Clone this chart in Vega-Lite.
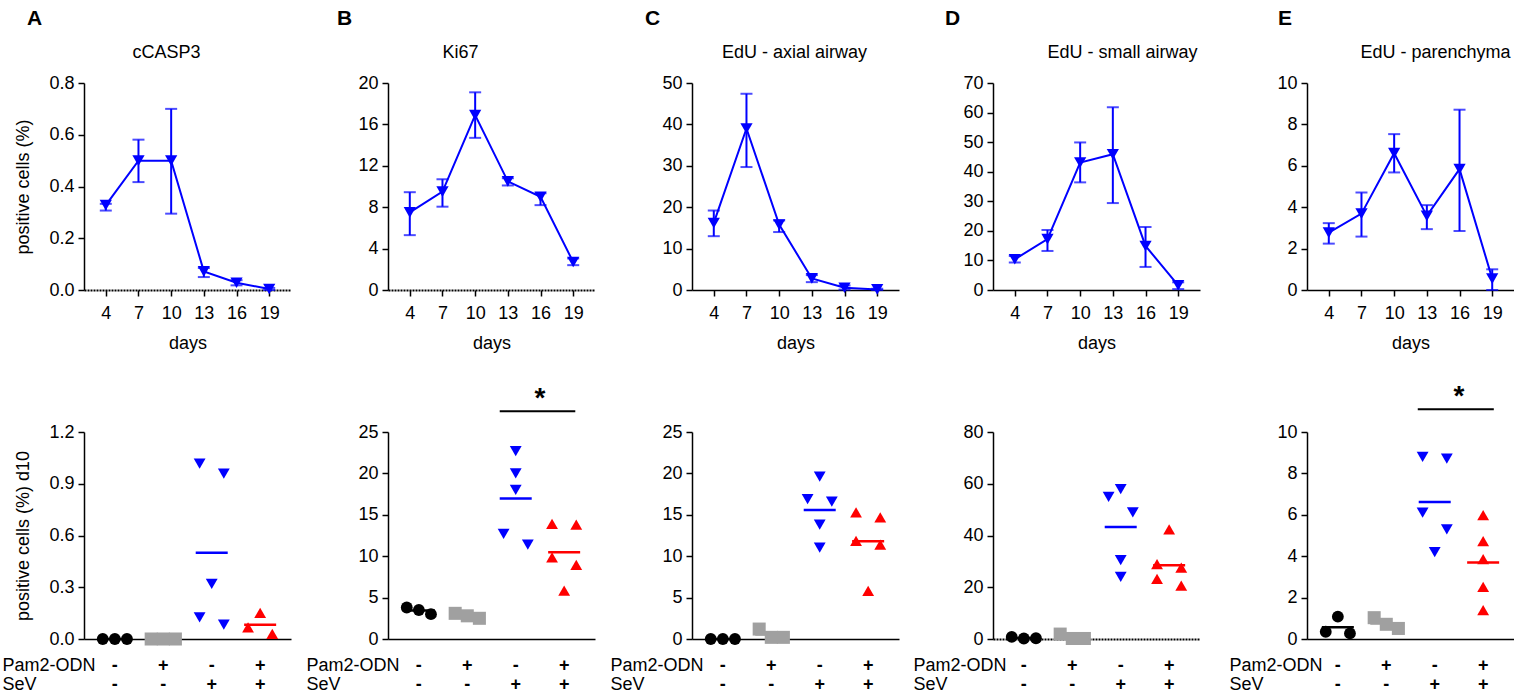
{
  "$schema": "https://vega.github.io/schema/vega-lite/v6.json",
  "padding": {"left": 2, "top": 8, "right": 0, "bottom": 0},
  "config": {
    "font": "Liberation Sans",
    "view": {"stroke": null},
    "axis": {"grid": false, "labelOverlap": false, "domainColor": "#000000", "domainWidth": 1.5, "tickColor": "#000000", "tickWidth": 1.5, "tickSize": 6, "labelFontSize": 18, "labelColor": "#000000", "titleFontSize": 18, "titleFontWeight": "normal", "titleColor": "#000000", "labelFont": "Liberation Sans", "titleFont": "Liberation Sans"},
    "axisY": {"labelPadding": 4, "titlePadding": 16},
    "axisX": {"labelPadding": 8, "titlePadding": 12, "labelAngle": 0, "labelFlush": false},
    "title": {"fontSize": 18, "fontWeight": "normal", "color": "#000000", "font": "Liberation Sans"}
  },
  "spacing": 14,
  "hconcat": [
    {
      "spacing": 15,
      "hconcat": [
        {
          "title": {"text": "A", "anchor": "start", "frame": "group", "dx": -57, "fontSize": 21, "fontWeight": "bold", "offset": 15},
          "spacing": 142, "bounds": "flush",
          "vconcat": [
            {
              "width": 207, "height": 207,
              "title": {"text": "cCASP3", "frame": "group", "anchor": "middle", "dx": -21, "offset": 12},
              "data": {"values": [
                {"day": 4, "mean": 0.328, "lo": 0.307, "hi": 0.333},
                {"day": 7, "mean": 0.50, "lo": 0.417, "hi": 0.581},
                {"day": 10, "mean": 0.50, "lo": 0.295, "hi": 0.70},
                {"day": 13, "mean": 0.072, "lo": 0.05, "hi": 0.085},
                {"day": 16, "mean": 0.028, "lo": 0.018, "hi": 0.038},
                {"day": 19, "mean": 0.004, "lo": 0.0, "hi": 0.008}
              ]},
              "layer": [
                {"mark": {"type": "line", "color": "#0000ff", "strokeWidth": 2},
                 "encoding": {
                   "x": {"field": "day", "type": "quantitative", "scale": {"domain": [2, 21], "nice": false, "zero": false}, "axis": {"values": [4, 7, 10, 13, 16, 19], "tickCount": 10, "title": "days", "domainDash": [2, 1], "domainWidth": 2}},
                   "y": {"field": "mean", "type": "quantitative", "scale": {"domain": [0, 0.8], "nice": false}, "axis": {"values": [0, 0.2, 0.4, 0.6, 0.8], "tickCount": 10, "format": ".1f", "title": "positive cells (%)"}}}},
                {"mark": {"type": "errorbar", "ticks": true, "size": 12, "thickness": 2, "color": "#0000ff"},
                 "encoding": {"x": {"field": "day", "type": "quantitative", "axis": {"title": "days"}}, "y": {"field": "lo", "type": "quantitative", "axis": {"title": "positive cells (%)"}}, "y2": {"field": "hi"}}},
                {"mark": {"type": "point", "shape": "triangle-down", "filled": true, "size": 150, "color": "#0000ff", "opacity": 1},
                 "encoding": {"x": {"field": "day", "type": "quantitative", "axis": {"title": "days"}}, "y": {"field": "mean", "type": "quantitative", "axis": {"title": "positive cells (%)"}}}}
              ]
            },
            {
              "width": 207, "height": 207,
              "data": {"values": [
                {"c": "-|-", "lane": "L", "v": 0}, {"c": "-|-", "lane": "C", "v": 0}, {"c": "-|-", "lane": "R", "v": 0},
                {"c": "+|-", "lane": "L", "v": 0}, {"c": "+|-", "lane": "C", "v": 0}, {"c": "+|-", "lane": "R", "v": 0},
                {"c": "-|+", "lane": "L", "v": 1.016}, {"c": "-|+", "lane": "R", "v": 0.958}, {"c": "-|+", "lane": "C", "v": 0.319}, {"c": "-|+", "lane": "L", "v": 0.126}, {"c": "-|+", "lane": "R", "v": 0.083},
                {"c": "+|+", "lane": "C", "v": 0.151}, {"c": "+|+", "lane": "L", "v": 0.068}, {"c": "+|+", "lane": "R", "v": 0.029}
              ]},
              "layer": [
                {"mark": {"type": "point", "filled": true, "opacity": 1, "strokeWidth": 0},
                 "encoding": {
                   "x": {"field": "c", "type": "nominal", "scale": {"type": "band", "domain": ["-|-", "+|-", "-|+", "+|+"], "paddingInner": 0, "paddingOuter": 0.137},
                         "axis": {"ticks": false, "labelPadding": 17, "labelBaseline": "top", "labelFontWeight": "bold", "labelLineHeight": 19, "labelExpr": "split(datum.value, '|')", "title": ["Pam2-ODN", "SeV"], "titleX": -82, "titleY": 17, "titleAlign": "left", "titleBaseline": "top", "titleLineHeight": 19, "titleAngle": 0}},
                   "xOffset": {"field": "lane", "type": "nominal", "scale": {"type": "point", "domain": ["L", "C", "R"], "padding": 1.86}},
                   "y": {"field": "v", "type": "quantitative", "scale": {"domain": [0, 1.2], "nice": false}, "axis": {"values": [0, 0.3, 0.6, 0.9, 1.2], "tickCount": 10, "format": ".1f", "title": "positive cells (%) d10"}},
                   "color": {"field": "c", "type": "nominal", "scale": {"domain": ["-|-", "+|-", "-|+", "+|+"], "range": ["#000000", "#a0a0a0", "#0000ff", "#ff0000"]}, "legend": null},
                   "shape": {"field": "c", "type": "nominal", "scale": {"domain": ["-|-", "+|-", "-|+", "+|+"], "range": ["circle", "square", "triangle-down", "triangle-up"]}, "legend": null},
                   "size": {"field": "c", "type": "ordinal", "scale": {"type": "ordinal", "domain": ["-|-", "+|-", "-|+", "+|+"], "range": [140, 170, 140, 140]}, "legend": null}}},
                {"mark": {"type": "tick", "thickness": 2.5, "size": 32},
                 "encoding": {"x": {"field": "c", "type": "nominal", "axis": {"title": ["Pam2-ODN", "SeV"]}}, "y": {"aggregate": "mean", "field": "v", "type": "quantitative", "axis": {"title": "positive cells (%) d10"}}, "color": {"field": "c", "type": "nominal", "legend": null}}}
              ]
            }
          ]
        },
        {
          "title": {"text": "B", "anchor": "start", "frame": "group", "dx": -51, "fontSize": 21, "fontWeight": "bold", "offset": 15},
          "spacing": 142, "bounds": "flush",
          "vconcat": [
            {
              "width": 207, "height": 207,
              "title": {"text": "Ki67", "frame": "group", "anchor": "middle", "dx": -31, "offset": 12},
              "data": {"values": [
                {"day": 4, "mean": 7.5, "lo": 5.3, "hi": 9.45},
                {"day": 7, "mean": 9.5, "lo": 8.05, "hi": 10.7},
                {"day": 10, "mean": 16.9, "lo": 14.7, "hi": 19.1},
                {"day": 13, "mean": 10.5, "lo": 10.1, "hi": 10.8},
                {"day": 16, "mean": 9.0, "lo": 8.2, "hi": 9.35},
                {"day": 19, "mean": 2.7, "lo": 2.4, "hi": 3.05}
              ]},
              "layer": [
                {"mark": {"type": "line", "color": "#0000ff", "strokeWidth": 2},
                 "encoding": {
                   "x": {"field": "day", "type": "quantitative", "scale": {"domain": [2, 21], "nice": false, "zero": false}, "axis": {"values": [4, 7, 10, 13, 16, 19], "tickCount": 10, "title": "days", "domainDash": [2, 1], "domainWidth": 2}},
                   "y": {"field": "mean", "type": "quantitative", "scale": {"domain": [0, 20], "nice": false}, "axis": {"values": [0, 4, 8, 12, 16, 20], "tickCount": 10, "title": null}}}},
                {"mark": {"type": "errorbar", "ticks": true, "size": 12, "thickness": 2, "color": "#0000ff"},
                 "encoding": {"x": {"field": "day", "type": "quantitative", "axis": {"title": "days"}}, "y": {"field": "lo", "type": "quantitative", "axis": {"title": null}}, "y2": {"field": "hi"}}},
                {"mark": {"type": "point", "shape": "triangle-down", "filled": true, "size": 150, "color": "#0000ff", "opacity": 1},
                 "encoding": {"x": {"field": "day", "type": "quantitative", "axis": {"title": "days"}}, "y": {"field": "mean", "type": "quantitative", "axis": {"title": null}}}}
              ]
            },
            {
              "width": 207, "height": 207,
              "data": {"values": [
                {"c": "-|-", "lane": "L", "v": 3.8}, {"c": "-|-", "lane": "C", "v": 3.5}, {"c": "-|-", "lane": "R", "v": 3.0},
                {"c": "+|-", "lane": "L", "v": 3.1}, {"c": "+|-", "lane": "C", "v": 2.8}, {"c": "+|-", "lane": "R", "v": 2.5},
                {"c": "-|+", "lane": "C", "v": 22.7}, {"c": "-|+", "lane": "C", "v": 20.0}, {"c": "-|+", "lane": "C", "v": 18.0}, {"c": "-|+", "lane": "L", "v": 12.7}, {"c": "-|+", "lane": "R", "v": 11.4},
                {"c": "+|+", "lane": "L", "v": 13.9}, {"c": "+|+", "lane": "R", "v": 13.8}, {"c": "+|+", "lane": "L", "v": 9.85}, {"c": "+|+", "lane": "R", "v": 8.96}, {"c": "+|+", "lane": "C", "v": 5.83}
              ]},
              "layer": [
                {"mark": {"type": "point", "filled": true, "opacity": 1, "strokeWidth": 0},
                 "encoding": {
                   "x": {"field": "c", "type": "nominal", "scale": {"type": "band", "domain": ["-|-", "+|-", "-|+", "+|+"], "paddingInner": 0, "paddingOuter": 0.137},
                         "axis": {"ticks": false, "labelPadding": 17, "labelBaseline": "top", "labelFontWeight": "bold", "labelLineHeight": 19, "labelExpr": "split(datum.value, '|')", "title": ["Pam2-ODN", "SeV"], "titleX": -82, "titleY": 17, "titleAlign": "left", "titleBaseline": "top", "titleLineHeight": 19, "titleAngle": 0}},
                   "xOffset": {"field": "lane", "type": "nominal", "scale": {"type": "point", "domain": ["L", "C", "R"], "padding": 1.86}},
                   "y": {"field": "v", "type": "quantitative", "scale": {"domain": [0, 25], "nice": false}, "axis": {"values": [0, 5, 10, 15, 20, 25], "tickCount": 10, "title": null}},
                   "color": {"field": "c", "type": "nominal", "scale": {"domain": ["-|-", "+|-", "-|+", "+|+"], "range": ["#000000", "#a0a0a0", "#0000ff", "#ff0000"]}, "legend": null},
                   "shape": {"field": "c", "type": "nominal", "scale": {"domain": ["-|-", "+|-", "-|+", "+|+"], "range": ["circle", "square", "triangle-down", "triangle-up"]}, "legend": null},
                   "size": {"field": "c", "type": "ordinal", "scale": {"type": "ordinal", "domain": ["-|-", "+|-", "-|+", "+|+"], "range": [140, 170, 140, 140]}, "legend": null}}},
                {"mark": {"type": "tick", "thickness": 2.5, "size": 32},
                 "encoding": {"x": {"field": "c", "type": "nominal", "axis": {"title": ["Pam2-ODN", "SeV"]}}, "y": {"aggregate": "mean", "field": "v", "type": "quantitative", "axis": {"title": null}}, "color": {"field": "c", "type": "nominal", "legend": null}}},
                {"data": {"values": [{"a": "-|+", "b": "+|+", "ybar": 27.5, "ystar": 28.0, "s": "*"}]},
                 "layer": [
                   {"mark": {"type": "rule", "strokeWidth": 2, "color": "#000000"},
                    "encoding": {"x": {"field": "a", "type": "nominal", "bandPosition": 0.17, "axis": {"title": ["Pam2-ODN", "SeV"]}}, "x2": {"field": "b", "bandPosition": 0.73}, "y": {"field": "ybar", "type": "quantitative", "axis": {"title": null}}}},
                   {"mark": {"type": "text", "fontSize": 28, "fontWeight": "bold", "baseline": "alphabetic", "align": "center", "color": "#000000"},
                    "encoding": {"x": {"field": "b", "type": "nominal", "bandPosition": 0, "axis": {"title": ["Pam2-ODN", "SeV"]}}, "y": {"field": "ystar", "type": "quantitative", "axis": {"title": null}}, "text": {"field": "s"}}}
                 ]}
              ]
            }
          ]
        },
        {
          "title": {"text": "C", "anchor": "start", "frame": "group", "dx": -47, "fontSize": 21, "fontWeight": "bold", "offset": 15},
          "spacing": 142, "bounds": "flush",
          "vconcat": [
            {
              "width": 207, "height": 207,
              "title": {"text": "EdU - axial airway", "frame": "group", "anchor": "middle", "dx": -1, "offset": 12},
              "data": {"values": [
                {"day": 4, "mean": 16.2, "lo": 13.0, "hi": 19.2},
                {"day": 7, "mean": 39.0, "lo": 29.7, "hi": 47.4},
                {"day": 10, "mean": 15.8, "lo": 14.0, "hi": 16.8},
                {"day": 13, "mean": 2.8, "lo": 1.9, "hi": 3.6},
                {"day": 16, "mean": 0.56, "lo": 0.1, "hi": 1.1},
                {"day": 19, "mean": 0.15, "lo": 0.0, "hi": 0.3}
              ]},
              "layer": [
                {"mark": {"type": "line", "color": "#0000ff", "strokeWidth": 2},
                 "encoding": {
                   "x": {"field": "day", "type": "quantitative", "scale": {"domain": [2, 21], "nice": false, "zero": false}, "axis": {"values": [4, 7, 10, 13, 16, 19], "tickCount": 10, "title": "days"}},
                   "y": {"field": "mean", "type": "quantitative", "scale": {"domain": [0, 50], "nice": false}, "axis": {"values": [0, 10, 20, 30, 40, 50], "tickCount": 10, "title": null}}}},
                {"mark": {"type": "errorbar", "ticks": true, "size": 12, "thickness": 2, "color": "#0000ff"},
                 "encoding": {"x": {"field": "day", "type": "quantitative", "axis": {"title": "days"}}, "y": {"field": "lo", "type": "quantitative", "axis": {"title": null}}, "y2": {"field": "hi"}}},
                {"mark": {"type": "point", "shape": "triangle-down", "filled": true, "size": 150, "color": "#0000ff", "opacity": 1},
                 "encoding": {"x": {"field": "day", "type": "quantitative", "axis": {"title": "days"}}, "y": {"field": "mean", "type": "quantitative", "axis": {"title": null}}}}
              ]
            },
            {
              "width": 207, "height": 207,
              "data": {"values": [
                {"c": "-|-", "lane": "L", "v": 0}, {"c": "-|-", "lane": "C", "v": 0}, {"c": "-|-", "lane": "R", "v": 0},
                {"c": "+|-", "lane": "L", "v": 1.2}, {"c": "+|-", "lane": "C", "v": 0.2}, {"c": "+|-", "lane": "R", "v": 0.2},
                {"c": "-|+", "lane": "C", "v": 19.6}, {"c": "-|+", "lane": "L", "v": 16.9}, {"c": "-|+", "lane": "R", "v": 16.6}, {"c": "-|+", "lane": "C", "v": 13.8}, {"c": "-|+", "lane": "C", "v": 11.05},
                {"c": "+|+", "lane": "L", "v": 15.3}, {"c": "+|+", "lane": "R", "v": 14.7}, {"c": "+|+", "lane": "L", "v": 11.86}, {"c": "+|+", "lane": "R", "v": 11.4}, {"c": "+|+", "lane": "C", "v": 5.8}
              ]},
              "layer": [
                {"mark": {"type": "point", "filled": true, "opacity": 1, "strokeWidth": 0},
                 "encoding": {
                   "x": {"field": "c", "type": "nominal", "scale": {"type": "band", "domain": ["-|-", "+|-", "-|+", "+|+"], "paddingInner": 0, "paddingOuter": 0.137},
                         "axis": {"ticks": false, "labelPadding": 17, "labelBaseline": "top", "labelFontWeight": "bold", "labelLineHeight": 19, "labelExpr": "split(datum.value, '|')", "title": ["Pam2-ODN", "SeV"], "titleX": -82, "titleY": 17, "titleAlign": "left", "titleBaseline": "top", "titleLineHeight": 19, "titleAngle": 0}},
                   "xOffset": {"field": "lane", "type": "nominal", "scale": {"type": "point", "domain": ["L", "C", "R"], "padding": 1.86}},
                   "y": {"field": "v", "type": "quantitative", "scale": {"domain": [0, 25], "nice": false}, "axis": {"values": [0, 5, 10, 15, 20, 25], "tickCount": 10, "title": null}},
                   "color": {"field": "c", "type": "nominal", "scale": {"domain": ["-|-", "+|-", "-|+", "+|+"], "range": ["#000000", "#a0a0a0", "#0000ff", "#ff0000"]}, "legend": null},
                   "shape": {"field": "c", "type": "nominal", "scale": {"domain": ["-|-", "+|-", "-|+", "+|+"], "range": ["circle", "square", "triangle-down", "triangle-up"]}, "legend": null},
                   "size": {"field": "c", "type": "ordinal", "scale": {"type": "ordinal", "domain": ["-|-", "+|-", "-|+", "+|+"], "range": [140, 170, 140, 140]}, "legend": null}}},
                {"mark": {"type": "tick", "thickness": 2.5, "size": 32},
                 "encoding": {"x": {"field": "c", "type": "nominal", "axis": {"title": ["Pam2-ODN", "SeV"]}}, "y": {"aggregate": "mean", "field": "v", "type": "quantitative", "axis": {"title": null}}, "color": {"field": "c", "type": "nominal", "legend": null}}}
              ]
            }
          ]
        }
      ]
    },
    {
      "spacing": 29,
      "hconcat": [
        {
          "title": {"text": "D", "anchor": "start", "frame": "group", "dx": -48, "fontSize": 21, "fontWeight": "bold", "offset": 15},
          "spacing": 142, "bounds": "flush",
          "vconcat": [
            {
              "width": 207, "height": 207,
              "title": {"text": "EdU - small airway", "frame": "group", "anchor": "middle", "dx": 26, "offset": 12},
              "data": {"values": [
                {"day": 4, "mean": 10.4, "lo": 9.3, "hi": 11.5},
                {"day": 7, "mean": 17.2, "lo": 13.2, "hi": 20.3},
                {"day": 10, "mean": 43.1, "lo": 36.4, "hi": 49.9},
                {"day": 13, "mean": 45.9, "lo": 29.4, "hi": 61.8},
                {"day": 16, "mean": 14.9, "lo": 7.8, "hi": 21.3},
                {"day": 19, "mean": 1.6, "lo": 0.3, "hi": 2.6}
              ]},
              "layer": [
                {"mark": {"type": "line", "color": "#0000ff", "strokeWidth": 2},
                 "encoding": {
                   "x": {"field": "day", "type": "quantitative", "scale": {"domain": [2, 21], "nice": false, "zero": false}, "axis": {"values": [4, 7, 10, 13, 16, 19], "tickCount": 10, "title": "days"}},
                   "y": {"field": "mean", "type": "quantitative", "scale": {"domain": [0, 70], "nice": false}, "axis": {"values": [0, 10, 20, 30, 40, 50, 60, 70], "tickCount": 10, "title": null}}}},
                {"mark": {"type": "errorbar", "ticks": true, "size": 12, "thickness": 2, "color": "#0000ff"},
                 "encoding": {"x": {"field": "day", "type": "quantitative", "axis": {"title": "days"}}, "y": {"field": "lo", "type": "quantitative", "axis": {"title": null}}, "y2": {"field": "hi"}}},
                {"mark": {"type": "point", "shape": "triangle-down", "filled": true, "size": 150, "color": "#0000ff", "opacity": 1},
                 "encoding": {"x": {"field": "day", "type": "quantitative", "axis": {"title": "days"}}, "y": {"field": "mean", "type": "quantitative", "axis": {"title": null}}}}
              ]
            },
            {
              "width": 207, "height": 207,
              "data": {"values": [
                {"c": "-|-", "lane": "L", "v": 0.8}, {"c": "-|-", "lane": "C", "v": 0.2}, {"c": "-|-", "lane": "R", "v": 0.3},
                {"c": "+|-", "lane": "L", "v": 1.9}, {"c": "+|-", "lane": "C", "v": 0.2}, {"c": "+|-", "lane": "R", "v": 0.2},
                {"c": "-|+", "lane": "L", "v": 54.9}, {"c": "-|+", "lane": "C", "v": 57.9}, {"c": "-|+", "lane": "R", "v": 48.9}, {"c": "-|+", "lane": "C", "v": 30.5}, {"c": "-|+", "lane": "C", "v": 24.05},
                {"c": "+|+", "lane": "C", "v": 42.4}, {"c": "+|+", "lane": "L", "v": 28.9}, {"c": "+|+", "lane": "R", "v": 27.6}, {"c": "+|+", "lane": "L", "v": 23.2}, {"c": "+|+", "lane": "R", "v": 20.6}
              ]},
              "layer": [
                {"mark": {"type": "point", "filled": true, "opacity": 1, "strokeWidth": 0},
                 "encoding": {
                   "x": {"field": "c", "type": "nominal", "scale": {"type": "band", "domain": ["-|-", "+|-", "-|+", "+|+"], "paddingInner": 0, "paddingOuter": 0.137},
                         "axis": {"ticks": false, "domainDash": [2, 1], "domainWidth": 2, "labelPadding": 17, "labelBaseline": "top", "labelFontWeight": "bold", "labelLineHeight": 19, "labelExpr": "split(datum.value, '|')", "title": ["Pam2-ODN", "SeV"], "titleX": -80, "titleY": 17, "titleAlign": "left", "titleBaseline": "top", "titleLineHeight": 19, "titleAngle": 0}},
                   "xOffset": {"field": "lane", "type": "nominal", "scale": {"type": "point", "domain": ["L", "C", "R"], "padding": 1.86}},
                   "y": {"field": "v", "type": "quantitative", "scale": {"domain": [0, 80], "nice": false}, "axis": {"values": [0, 20, 40, 60, 80], "tickCount": 10, "title": null}},
                   "color": {"field": "c", "type": "nominal", "scale": {"domain": ["-|-", "+|-", "-|+", "+|+"], "range": ["#000000", "#a0a0a0", "#0000ff", "#ff0000"]}, "legend": null},
                   "shape": {"field": "c", "type": "nominal", "scale": {"domain": ["-|-", "+|-", "-|+", "+|+"], "range": ["circle", "square", "triangle-down", "triangle-up"]}, "legend": null},
                   "size": {"field": "c", "type": "ordinal", "scale": {"type": "ordinal", "domain": ["-|-", "+|-", "-|+", "+|+"], "range": [140, 170, 140, 140]}, "legend": null}}},
                {"mark": {"type": "tick", "thickness": 2.5, "size": 32},
                 "encoding": {"x": {"field": "c", "type": "nominal", "axis": {"title": ["Pam2-ODN", "SeV"]}}, "y": {"aggregate": "mean", "field": "v", "type": "quantitative", "axis": {"title": null}}, "color": {"field": "c", "type": "nominal", "legend": null}}}
              ]
            }
          ]
        },
        {
          "title": {"text": "E", "anchor": "start", "frame": "group", "dx": -29, "fontSize": 21, "fontWeight": "bold", "offset": 15},
          "spacing": 142, "bounds": "flush",
          "vconcat": [
            {
              "width": 207, "height": 207,
              "title": {"text": "EdU - parenchyma", "frame": "group", "anchor": "middle", "dx": 25, "offset": 12},
              "data": {"values": [
                {"day": 4, "mean": 2.77, "lo": 2.24, "hi": 3.23},
                {"day": 7, "mean": 3.69, "lo": 2.58, "hi": 4.71},
                {"day": 10, "mean": 6.61, "lo": 5.68, "hi": 7.53},
                {"day": 13, "mean": 3.58, "lo": 2.94, "hi": 4.10},
                {"day": 16, "mean": 5.84, "lo": 2.85, "hi": 8.71},
                {"day": 19, "mean": 0.55, "lo": 0.0, "hi": 1.0}
              ]},
              "layer": [
                {"mark": {"type": "line", "color": "#0000ff", "strokeWidth": 2},
                 "encoding": {
                   "x": {"field": "day", "type": "quantitative", "scale": {"domain": [2, 21], "nice": false, "zero": false}, "axis": {"values": [4, 7, 10, 13, 16, 19], "tickCount": 10, "title": "days"}},
                   "y": {"field": "mean", "type": "quantitative", "scale": {"domain": [0, 10], "nice": false}, "axis": {"values": [0, 2, 4, 6, 8, 10], "tickCount": 10, "title": null}}}},
                {"mark": {"type": "errorbar", "ticks": true, "size": 12, "thickness": 2, "color": "#0000ff"},
                 "encoding": {"x": {"field": "day", "type": "quantitative", "axis": {"title": "days"}}, "y": {"field": "lo", "type": "quantitative", "axis": {"title": null}}, "y2": {"field": "hi"}}},
                {"mark": {"type": "point", "shape": "triangle-down", "filled": true, "size": 150, "color": "#0000ff", "opacity": 1},
                 "encoding": {"x": {"field": "day", "type": "quantitative", "axis": {"title": "days"}}, "y": {"field": "mean", "type": "quantitative", "axis": {"title": null}}}}
              ]
            },
            {
              "width": 207, "height": 207,
              "data": {"values": [
                {"c": "-|-", "lane": "C", "v": 1.08}, {"c": "-|-", "lane": "L", "v": 0.35}, {"c": "-|-", "lane": "R", "v": 0.27},
                {"c": "+|-", "lane": "L", "v": 1.03}, {"c": "+|-", "lane": "C", "v": 0.71}, {"c": "+|-", "lane": "R", "v": 0.51},
                {"c": "-|+", "lane": "L", "v": 8.8}, {"c": "-|+", "lane": "R", "v": 8.71}, {"c": "-|+", "lane": "L", "v": 6.1}, {"c": "-|+", "lane": "R", "v": 5.3}, {"c": "-|+", "lane": "C", "v": 4.2},
                {"c": "+|+", "lane": "C", "v": 5.98}, {"c": "+|+", "lane": "C", "v": 4.73}, {"c": "+|+", "lane": "C", "v": 3.86}, {"c": "+|+", "lane": "C", "v": 2.52}, {"c": "+|+", "lane": "C", "v": 1.40}
              ]},
              "layer": [
                {"mark": {"type": "point", "filled": true, "opacity": 1, "strokeWidth": 0},
                 "encoding": {
                   "x": {"field": "c", "type": "nominal", "scale": {"type": "band", "domain": ["-|-", "+|-", "-|+", "+|+"], "paddingInner": 0, "paddingOuter": 0.137},
                         "axis": {"ticks": false, "labelPadding": 17, "labelBaseline": "top", "labelFontWeight": "bold", "labelLineHeight": 19, "labelExpr": "split(datum.value, '|')", "title": ["Pam2-ODN", "SeV"], "titleX": -78, "titleY": 17, "titleAlign": "left", "titleBaseline": "top", "titleLineHeight": 19, "titleAngle": 0}},
                   "xOffset": {"field": "lane", "type": "nominal", "scale": {"type": "point", "domain": ["L", "C", "R"], "padding": 1.86}},
                   "y": {"field": "v", "type": "quantitative", "scale": {"domain": [0, 10], "nice": false}, "axis": {"values": [0, 2, 4, 6, 8, 10], "tickCount": 10, "title": null}},
                   "color": {"field": "c", "type": "nominal", "scale": {"domain": ["-|-", "+|-", "-|+", "+|+"], "range": ["#000000", "#a0a0a0", "#0000ff", "#ff0000"]}, "legend": null},
                   "shape": {"field": "c", "type": "nominal", "scale": {"domain": ["-|-", "+|-", "-|+", "+|+"], "range": ["circle", "square", "triangle-down", "triangle-up"]}, "legend": null},
                   "size": {"field": "c", "type": "ordinal", "scale": {"type": "ordinal", "domain": ["-|-", "+|-", "-|+", "+|+"], "range": [140, 170, 140, 140]}, "legend": null}}},
                {"mark": {"type": "tick", "thickness": 2.5, "size": 32},
                 "encoding": {"x": {"field": "c", "type": "nominal", "axis": {"title": ["Pam2-ODN", "SeV"]}}, "y": {"aggregate": "mean", "field": "v", "type": "quantitative", "axis": {"title": null}}, "color": {"field": "c", "type": "nominal", "legend": null}}},
                {"data": {"values": [{"a": "-|+", "b": "+|+", "ybar": 11.1, "ystar": 11.3, "s": "*"}]},
                 "layer": [
                   {"mark": {"type": "rule", "strokeWidth": 2, "color": "#000000"},
                    "encoding": {"x": {"field": "a", "type": "nominal", "bandPosition": 0.15, "axis": {"title": ["Pam2-ODN", "SeV"]}}, "x2": {"field": "b", "bandPosition": 0.72}, "y": {"field": "ybar", "type": "quantitative", "axis": {"title": null}}}},
                   {"mark": {"type": "text", "fontSize": 28, "fontWeight": "bold", "baseline": "alphabetic", "align": "center", "color": "#000000"},
                    "encoding": {"x": {"field": "b", "type": "nominal", "bandPosition": 0, "axis": {"title": ["Pam2-ODN", "SeV"]}}, "y": {"field": "ystar", "type": "quantitative", "axis": {"title": null}}, "text": {"field": "s"}}}
                 ]}
              ]
            }
          ]
        }
      ]
    }
  ]
}
